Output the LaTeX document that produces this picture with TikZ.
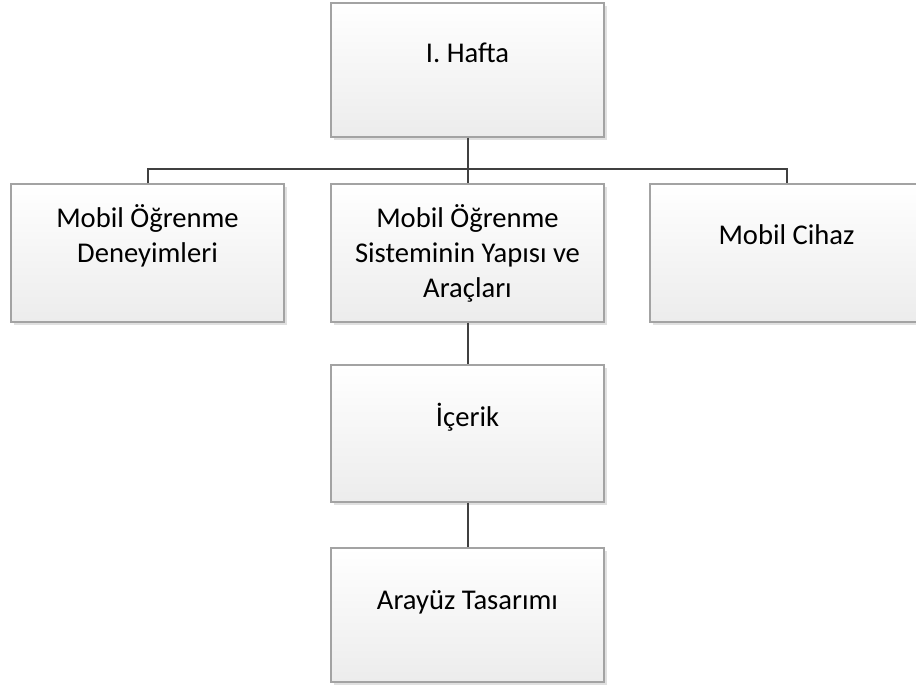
\documentclass[tikz,border=0pt]{standalone}
\usepackage{fontspec}
\setmainfont{Carlito}
\usetikzlibrary{shadows}
\definecolor{boxline}{HTML}{A3A3A3}
\definecolor{linkline}{HTML}{404040}
\definecolor{boxbottom}{HTML}{ECECEC}
\begin{document}
\begin{tikzpicture}[x=1pt,y=-1pt,
  orgbox/.style={rectangle, draw=boxline, line width=1.2pt,
    top color=white, bottom color=boxbottom,
    minimum width=273pt, minimum height=136pt, inner sep=0pt,
    drop shadow={shadow xshift=3pt, shadow yshift=-3pt, fill=black, opacity=0.12}},
  orgtext/.style={align=center, font=\fontsize{28.6}{35}\selectfont, text=black, inner sep=0pt},
  link/.style={draw=linkline, line width=2pt}]
\useasboundingbox (0,0) rectangle (916,686);

% boxes
\node[orgbox, minimum height=134pt] (hafta) at (467.5,70) {};
\node[orgbox, minimum height=138pt] (deney) at (147.5,253) {};
\node[orgbox, minimum height=138pt] (sistem) at (467.5,253) {};
\node[orgbox, minimum height=138pt] (cihaz) at (786.5,253) {};
\node[orgbox, minimum height=137pt] (icerik) at (467.5,433.5) {};
\node[orgbox, minimum height=134pt] (arayuz) at (467.5,615) {};

% labels, set in the upper part of each box
\node[orgtext] (thafta) at ([yshift=17pt]hafta.center) {I. Hafta};
\node[orgtext] (tdeney) at ([yshift=17pt]deney.center) {Mobil Öğrenme\\Deneyimleri};
\node[orgtext] (tsistem) at (sistem.center) {Mobil Öğrenme\\Sisteminin Yapısı ve\\Araçları};
\node[orgtext] (tcihaz) at ([yshift=18pt]cihaz.center) {Mobil Cihaz};
\node[orgtext] (ticerik) at ([yshift=16pt]icerik.center) {İçerik};
\node[orgtext] (tarayuz) at ([yshift=13pt]arayuz.center) {Arayüz Tasarımı};

% connectors
\coordinate (bus) at (467.5,169);
\draw[link] (hafta.south) -- (sistem.north);
\draw[link] (deney.north) |- (bus) -| (cihaz.north);
\draw[link] (sistem.south) -- (icerik.north);
\draw[link] (icerik.south) -- (arayuz.north);
\end{tikzpicture}
\end{document}
